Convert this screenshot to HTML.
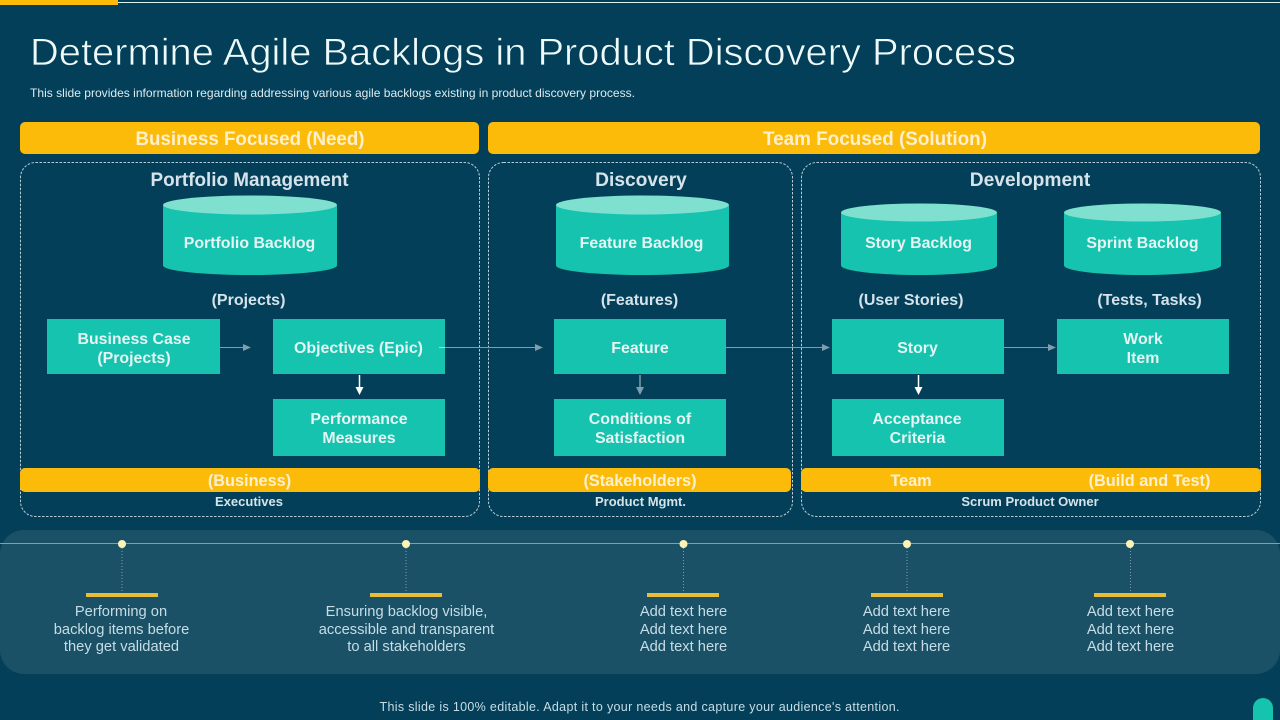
<!DOCTYPE html>
<html><head><meta charset="utf-8"><style>
html,body{margin:0;padding:0;background:#033f58}
svg{display:block}
text{font-family:"Liberation Sans",sans-serif;text-anchor:middle}
.b{font-weight:700}
.w{fill:#e9fbf8}
.h{fill:#d5e3ea;font-weight:700;font-size:19.2px}
.n{fill:#e4f5f3;font-weight:700;font-size:15.9px}
.p{fill:#d5e3ea;font-weight:700;font-size:16px}
.y{fill:#fdf0cf;font-weight:700}
.s{fill:#d5e3ea;font-weight:700;font-size:13px}
.t{fill:#c6dde6;font-size:14.7px}
.box{fill:#15c3ae}
.dash{fill:none;stroke:#b9ccd5;stroke-width:1;stroke-dasharray:2.5 1.5}
.c{stroke:#7e9dad;stroke-width:1;fill:none}
</style></head><body>
<svg width="1280" height="720" viewBox="0 0 1280 720" xmlns="http://www.w3.org/2000/svg">
<rect width="1280" height="720" fill="#033f58"/>
<rect x="0" y="0" width="118" height="5" fill="#fdbb09"/>
<rect x="118" y="2" width="1162" height="1" fill="#d9f2ee"/>
<text x="30" y="65" style="text-anchor:start;font-size:38px" fill="#eefaf9" stroke="#033f58" stroke-width="0.7" textLength="986" lengthAdjust="spacingAndGlyphs">Determine Agile Backlogs in Product Discovery Process</text>
<text x="30" y="97" style="text-anchor:start;font-size:12px" fill="#dcebf0" textLength="605" lengthAdjust="spacingAndGlyphs">This slide provides information regarding addressing various agile backlogs existing in product discovery process.</text>

<rect x="20" y="122" width="459" height="32" rx="5" fill="#fdbb09"/>
<rect x="488" y="122" width="772" height="32" rx="5" fill="#fdbb09"/>
<text x="250" y="145" class="y" font-size="19.5" textLength="229" lengthAdjust="spacingAndGlyphs">Business Focused (Need)</text>
<text x="875" y="145" class="y" font-size="19.5" textLength="224" lengthAdjust="spacingAndGlyphs">Team Focused (Solution)</text>

<rect x="20.5" y="162.5" width="459" height="354" rx="15" class="dash"/>
<rect x="488.5" y="162.5" width="304" height="354" rx="15" class="dash"/>
<rect x="801.5" y="162.5" width="459" height="354" rx="15" class="dash"/>

<text x="249.500" y="186" class="h" textLength="198" lengthAdjust="spacingAndGlyphs">Portfolio Management</text>
<text x="641" y="186" class="h">Discovery</text>
<text x="1030" y="186" class="h">Development</text>

<!-- cylinders -->
<path d="M163 205.500V265.500A87 9.500 0 0 0 337 265.500V205.500Z" class="box"/>
<ellipse cx="250" cy="205" rx="87" ry="9.500" fill="#7fe0d0"/>
<path d="M556 205.500V265.500A86.500 9.500 0 0 0 729 265.500V205.500Z" class="box"/>
<ellipse cx="642.500" cy="205" rx="86.500" ry="9.500" fill="#7fe0d0"/>
<path d="M841 213V265.500A78 9.500 0 0 0 997 265.500V213Z" class="box"/>
<ellipse cx="919" cy="212.500" rx="78" ry="9" fill="#7fe0d0"/>
<path d="M1064 213V265.500A78.500 9.500 0 0 0 1221 265.500V213Z" class="box"/>
<ellipse cx="1142.500" cy="212.500" rx="78.500" ry="9" fill="#7fe0d0"/>
<text x="249.500" y="248" class="n">Portfolio Backlog</text>
<text x="641.500" y="248" class="n">Feature Backlog</text>
<text x="918.500" y="248" class="n">Story Backlog</text>
<text x="1142.500" y="248" class="n">Sprint Backlog</text>

<text x="248.500" y="305" class="p">(Projects)</text>
<text x="639.500" y="305" class="p">(Features)</text>
<text x="911" y="305" class="p">(User Stories)</text>
<text x="1149.500" y="305" class="p">(Tests, Tasks)</text>

<!-- boxes -->
<rect x="47" y="319" width="173" height="55" class="box"/>
<rect x="273" y="319" width="172" height="55" class="box"/>
<rect x="273" y="399" width="172" height="57" class="box"/>
<rect x="554" y="319" width="172" height="55" class="box"/>
<rect x="554" y="399" width="172" height="57" class="box"/>
<rect x="832" y="319" width="172" height="55" class="box"/>
<rect x="832" y="399" width="172" height="57" class="box"/>
<rect x="1057" y="319" width="172" height="55" class="box"/>

<text x="134" y="344" class="n">Business Case</text>
<text x="134" y="363" class="n">(Projects)</text>
<text x="358.500" y="353" class="n">Objectives (Epic)</text>
<text x="359" y="424" class="n">Performance</text>
<text x="359" y="443" class="n">Measures</text>
<text x="640" y="353" class="n">Feature</text>
<text x="640" y="424" class="n">Conditions of</text>
<text x="640" y="443" class="n">Satisfaction</text>
<text x="917.500" y="353" class="n">Story</text>
<text x="917" y="424" class="n">Acceptance</text>
<text x="917.500" y="443" class="n">Criteria</text>
<text x="1143" y="344" class="n">Work</text>
<text x="1143" y="363" class="n">Item</text>

<!-- connectors -->
<path d="M220 347.500H244" class="c"/><path d="M243 344L251 347.500L243 351Z" fill="#7e9dad"/>
<path d="M439 347.500H445" stroke="#a5dcd6" stroke-width="1"/>
<path d="M445 347.500H536" class="c"/><path d="M535 344L543 347.500L535 351Z" fill="#7e9dad"/>
<path d="M726 347.500H823" class="c"/><path d="M822 344L830 347.500L822 351Z" fill="#7e9dad"/>
<path d="M1004 347.500H1049" class="c"/><path d="M1048 344L1056 347.500L1048 351Z" fill="#7e9dad"/>
<path d="M359.500 375V389" stroke="#fff" stroke-width="1.500"/><path d="M355.500 387H363.500L359.500 395Z" fill="#fff"/>
<path d="M640 375V389" stroke="#7e9dad" stroke-width="1.500"/><path d="M636 387H644L640 395Z" fill="#7e9dad"/>
<path d="M918.500 375V389" stroke="#fff" stroke-width="1.500"/><path d="M914.500 387H922.500L918.500 395Z" fill="#fff"/>

<!-- lower yellow bars -->
<rect x="20" y="468" width="460" height="24" rx="5" fill="#fdbb09"/>
<rect x="488" y="468" width="303" height="24" rx="5" fill="#fdbb09"/>
<rect x="801" y="468" width="460" height="24" rx="5" fill="#fdbb09"/>
<text x="249.500" y="486" class="y" font-size="16.300">(Business)</text>
<text x="640" y="486" class="y" font-size="16.300">(Stakeholders)</text>
<text x="911" y="486" class="y" font-size="16.300">Team</text>
<text x="1149.500" y="486" class="y" font-size="16.300">(Build and Test)</text>
<text x="249" y="506" class="s">Executives</text>
<text x="640.500" y="506" class="s">Product Mgmt.</text>
<text x="1030" y="506" class="s">Scrum Product Owner</text>

<!-- bottom panel -->
<rect x="0" y="530" width="1280" height="144" rx="24" fill="#1a5166"/>
<rect x="0" y="543" width="1280" height="1" fill="#7f9fac"/>
<g fill="#fdf3b4">
<circle cx="122" cy="544" r="4"/><circle cx="406" cy="544" r="4"/><circle cx="683.500" cy="544" r="4"/><circle cx="907" cy="544" r="4"/><circle cx="1130" cy="544" r="4"/>
</g>
<g stroke="#7f9fac" stroke-width="1" stroke-dasharray="1 2">
<path d="M122 548V593M406 548V593M683.500 548V593M907 548V593M1130.500 548V593"/>
</g>
<g fill="#e6bd35">
<rect x="86" y="593" width="72" height="4"/><rect x="370" y="593" width="72" height="4"/><rect x="647" y="593" width="72" height="4"/><rect x="871" y="593" width="72" height="4"/><rect x="1094" y="593" width="72" height="4"/>
</g>
<text x="121" y="616" class="t">Performing on</text>
<text x="121.500" y="634" class="t">backlog items before</text>
<text x="121.500" y="651" class="t">they get validated</text>
<text x="406.500" y="616" class="t">Ensuring backlog visible,</text>
<text x="406.500" y="634" class="t">accessible and transparent</text>
<text x="406.500" y="651" class="t">to all stakeholders</text>
<text x="683.500" y="616" class="t">Add text here</text><text x="683.500" y="634" class="t">Add text here</text><text x="683.500" y="651" class="t">Add text here</text>
<text x="906.500" y="616" class="t">Add text here</text><text x="906.500" y="634" class="t">Add text here</text><text x="906.500" y="651" class="t">Add text here</text>
<text x="1130.500" y="616" class="t">Add text here</text><text x="1130.500" y="634" class="t">Add text here</text><text x="1130.500" y="651" class="t">Add text here</text>

<text x="639.500" y="711" fill="#c6dde6" font-size="12.500" textLength="520" lengthAdjust="spacing">This slide is 100% editable. Adapt it to your needs and capture your audience's attention.</text>
<path d="M1253 720V708A10 10 0 0 1 1273 708V720Z" fill="#15c3ae"/>
</svg>
</body></html>
